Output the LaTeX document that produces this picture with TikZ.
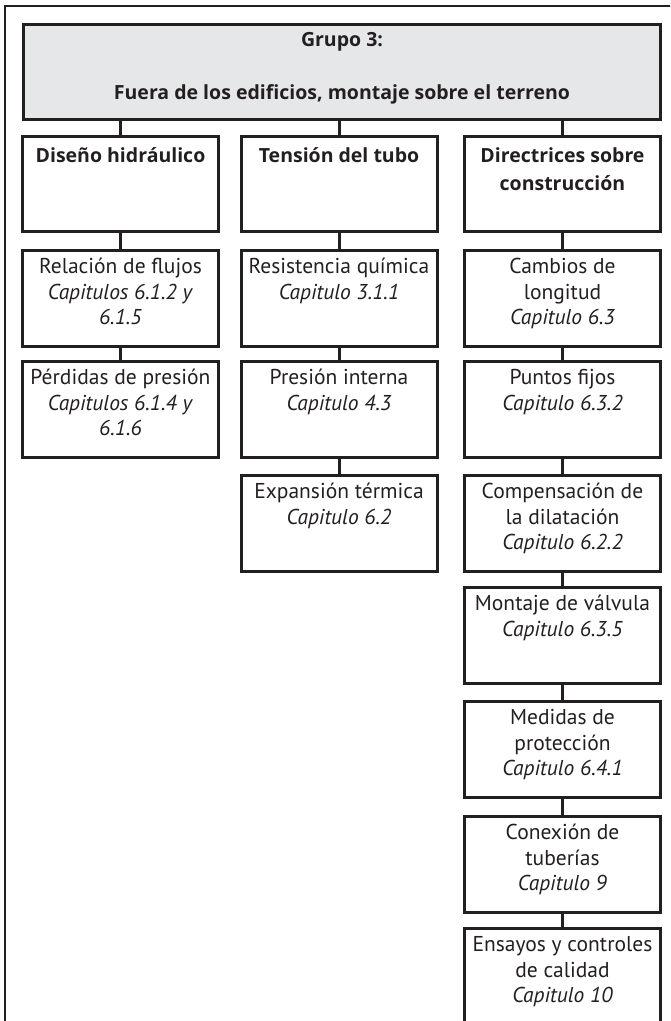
\documentclass[tikz,border=0pt]{standalone}
\usepackage{fontspec}
\setmainfont{PT Sans}
\newfontfamily\boldfont{Open Sans}
\definecolor{linec}{HTML}{231F20}
\definecolor{headfill}{HTML}{E6E7E8}
\newcommand\celltext[2]{\parbox[t][#1][t]{190pt}{\centering\fontsize{21.5}{25.5}\selectfont\strut#2}}
\newcommand\boldcell[1]{\parbox[t][84pt][t]{194pt}{\centering\boldfont\bfseries\fontsize{19.5}{28}\selectfont\rule{0pt}{21pt}#1}}
\newcommand\headtext[1]{\parbox[t][80pt][t]{630pt}{\centering\boldfont\bfseries\fontsize{19.5}{26.5}\selectfont\rule{0pt}{14.5pt}#1}}
\tikzset{
  cellbox/.style={draw=linec, line width=3pt, anchor=north, inner xsep=1pt, inner ysep=5.65pt, minimum width=196pt, text=linec},
  headbox/.style={draw=linec, fill=headfill, line width=3pt, anchor=north, inner xsep=3pt, inner ysep=7pt, minimum width=637pt, minimum height=95pt, text=linec},
  link/.style={draw=linec, line width=3pt},
  frame/.style={draw=linec, line width=1.2pt},
}
\begin{document}
\begin{tikzpicture}[x=1pt,y=-1pt]
\useasboundingbox (0,0) rectangle (670,1021);
\clip (0,0) rectangle (670,1021);
\coordinate (fb) at (5,1030);
\coordinate (ftl) at (5,6);
\coordinate (fr) at (680,6);
\draw[frame] (fb) -- (ftl) -- (fr);
\node[headbox] (h) at (342,22.5) {\headtext{Grupo 3:\\[26.5pt]Fuera de los edificios, montaje sobre el terreno}};
% column 1
\node[cellbox] (d1) at (120.5,134.5) {\boldcell{Diseño hidráulico}};
\node[cellbox] (d2) at (120.5,248.5) {\celltext{84.7pt}{Relación de flujos\\\textit{Capitulos 6.1.2 y}\\\textit{6.1.5}}};
\node[cellbox] (d3) at (120.5,359.5) {\celltext{84.7pt}{Pérdidas de presión\\\textit{Capitulos 6.1.4 y}\\\textit{6.1.6}}};
% column 2
\node[cellbox] (t1) at (339,134.5) {\boldcell{Tensión del tubo}};
\node[cellbox] (t2) at (339,248.5) {\celltext{84.7pt}{Resistencia química\\\textit{Capitulo 3.1.1}}};
\node[cellbox] (t3) at (339,359.5) {\celltext{84.7pt}{Presión interna\\\textit{Capitulo 4.3}}};
\node[cellbox] (t4) at (339,473.5) {\celltext{84.7pt}{Expansión térmica\\\textit{Capitulo 6.2}}};
% column 3
\node[cellbox] (r1) at (562.5,134.5) {\boldcell{Directrices sobre\\construcción}};
\node[cellbox] (r2) at (562.5,248.5) {\celltext{84.7pt}{Cambios de\\longitud\\\textit{Capitulo 6.3}}};
\node[cellbox] (r3) at (562.5,359.5) {\celltext{84.7pt}{Puntos fijos\\\textit{Capitulo 6.3.2}}};
\node[cellbox] (r4) at (562.5,473.5) {\celltext{84.7pt}{Compensación de\\la dilatación\\\textit{Capitulo 6.2.2}}};
\node[cellbox] (r5) at (562.5,585.5) {\celltext{84.7pt}{Montaje de válvula\\\textit{Capitulo 6.3.5}}};
\node[cellbox] (r6) at (562.5,699.5) {\celltext{84.7pt}{Medidas de\\protección\\\textit{Capitulo 6.4.1}}};
\node[cellbox] (r7) at (562.5,814.5) {\celltext{84.7pt}{Conexión de\\tuberías\\\textit{Capitulo 9}}};
\node[cellbox] (r8) at (562.5,926.5) {\celltext{140pt}{Ensayos y controles\\de calidad\\\textit{Capitulo 10}}};
% connectors
\foreach \n in {d1,t1,r1} \draw[link] (h.south -| \n.north) -- (\n.north);
\foreach \a/\b in {d1/d2,d2/d3,t1/t2,t2/t3,t3/t4,r1/r2,r2/r3,r3/r4,r4/r5,r5/r6,r6/r7,r7/r8}
  \draw[link] (\a.south) -- (\b.north);
\end{tikzpicture}
\end{document}
